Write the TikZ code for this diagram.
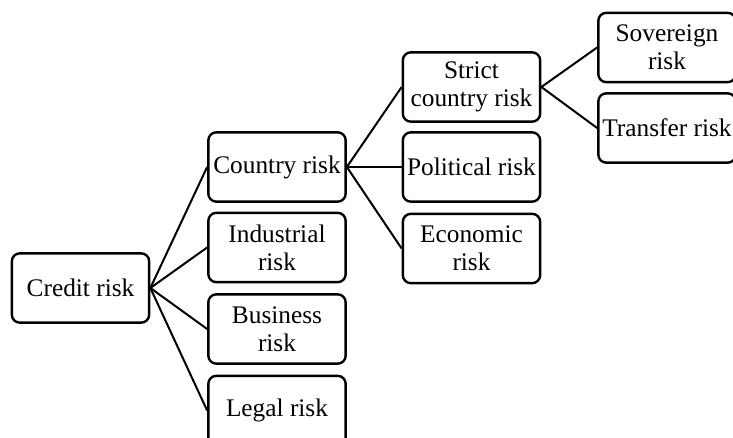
\documentclass[tikz,border=0pt]{standalone}
\usepackage{fontspec}
\setmainfont{Liberation Serif}
\usetikzlibrary{positioning}
\definecolor{riskInk}{HTML}{000000}
\tikzset{
  riskbox/.style={rounded corners=6pt, draw=riskInk, line width=1.8pt, fill=white,
              align=center, inner sep=2pt, minimum width=103pt, minimum height=52pt,
              font=\fontsize{19pt}{21pt}\selectfont},
  link/.style={draw=riskInk, line width=1.5pt},
}
\begin{document}
\begin{tikzpicture}[x=0.75pt,y=-0.75pt]
        \clip (0,0) rectangle (733,438);
        % root
        \node[riskbox] (credit) at (80.5,288){Credit risk};
        % second level
        \node[riskbox] (country) at (277,167){Country risk};
        \node[riskbox] (industrial) at (277,247.5){Industrial\\risk};
        \node[riskbox] (business) at (277,329){Business\\risk};
        \node[riskbox] (legal) at (277,410.5){Legal risk};
        % third level
        \node[riskbox] (strict) at (471.5,87){Strict\\country risk};
        \node[riskbox] (political) at (471.5,167){Political risk};
        \node[riskbox] (economic) at (471.5,248.5){Economic\\risk};
        % fourth level
        \node[riskbox] (sovereign) at (667,47.5){Sovereign\\risk};
        \node[riskbox] (transfer) at (667,128){Transfer risk};
        \foreach \child in {country,industrial,business,legal}
          \draw[link] (credit.east) -- (\child.west);
        \foreach \child in {strict,political,economic}
          \draw[link] (country.east) -- (\child.west);
        \foreach \child in {sovereign,transfer}
          \draw[link] (strict.east) -- (\child.west);
      \end{tikzpicture}
\end{document}
